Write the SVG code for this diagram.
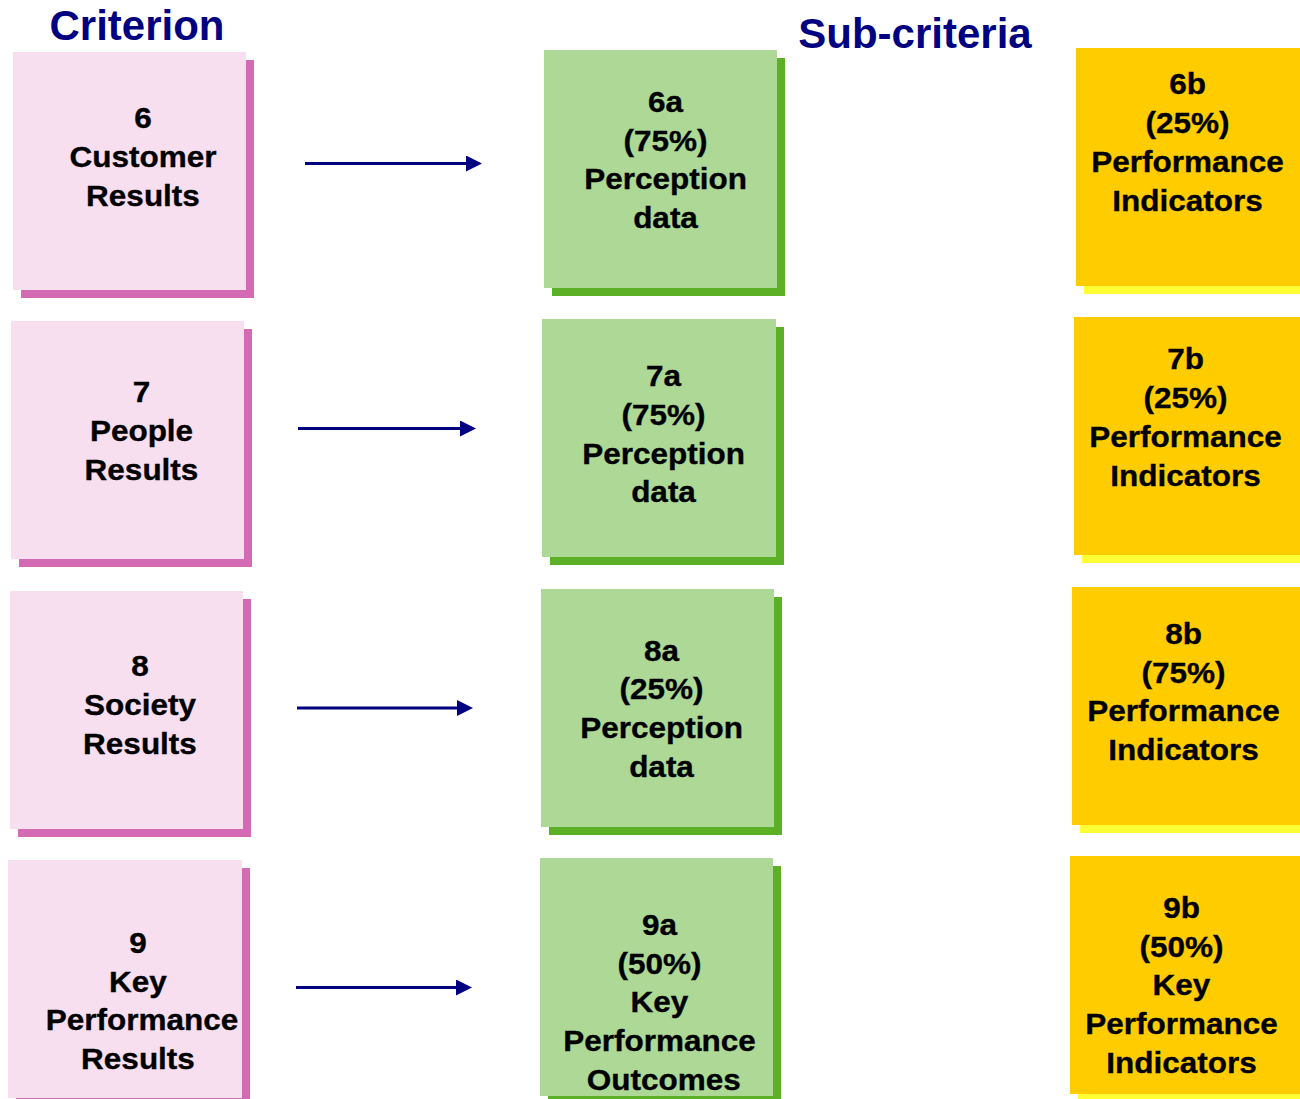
<svg xmlns="http://www.w3.org/2000/svg" width="1300" height="1099" viewBox="0 0 1300 1099">
<style>
.title{font-family:"Liberation Sans",Arial,sans-serif;font-weight:bold;font-size:42px;fill:#000080;text-anchor:middle}
.lbl{font-family:"Liberation Sans",Arial,sans-serif;font-weight:bold;font-size:30px;fill:#000;stroke:#000;stroke-width:0.35;text-anchor:middle}
.pk{fill:#F7DFF0}.pks{fill:#D46AB3}
.gr{fill:#ADD895}.grs{fill:#5BB026}
.yl{fill:#FFCC00}.yls{fill:#FFFF33}
.conn{stroke:#000080;stroke-width:3.2;fill:none}
</style>
<defs>
<marker id="ah" markerUnits="userSpaceOnUse" markerWidth="16" markerHeight="16" refX="0" refY="8" orient="auto" viewBox="0 0 16 16">
<path d="M0,0 L16,8 L0,16 z" fill="#000080"/>
</marker>
</defs>
<rect width="1300" height="1099" fill="#fff"/>
<text class="title" x="137" y="40">Criterion</text>
<text class="title" x="915" y="48">Sub-criteria</text>

<g id="c6">
<rect class="pks" x="21" y="60" width="233" height="238"/>
<rect class="pk" x="13" y="52" width="233" height="238"/>
<g transform="translate(143 0) scale(1.05 1)"><text class="lbl"><tspan x="0" y="128">6</tspan><tspan x="0" y="167">Customer</tspan><tspan x="0" y="206">Results</tspan></text></g>
</g>
<g id="c7">
<rect class="pks" x="19" y="329" width="233" height="238"/>
<rect class="pk" x="11" y="321" width="233" height="238"/>
<g transform="translate(141.5 0) scale(1.05 1)"><text class="lbl"><tspan x="0" y="402.5">7</tspan><tspan x="0" y="441.5">People</tspan><tspan x="0" y="480">Results</tspan></text></g>
</g>
<g id="c8">
<rect class="pks" x="18" y="599" width="233" height="238"/>
<rect class="pk" x="10" y="591" width="233" height="238"/>
<g transform="translate(140 0) scale(1.05 1)"><text class="lbl"><tspan x="0" y="676.5">8</tspan><tspan x="0" y="715.5">Society</tspan><tspan x="0" y="754.5">Results</tspan></text></g>
</g>
<g id="c9">
<rect class="pks" x="16" y="868" width="234" height="238"/>
<rect class="pk" x="8" y="860" width="234" height="238"/>
<g transform="translate(138 0) scale(1.05 1)"><text class="lbl"><tspan x="0" y="953">9</tspan><tspan x="0" y="992">Key</tspan><tspan x="3.8" y="1030.5">Performance</tspan><tspan x="0" y="1069">Results</tspan></text></g>
</g>

<g id="s6a">
<rect class="grs" x="552" y="58" width="233" height="238"/>
<rect class="gr" x="544" y="50" width="233" height="238"/>
<g transform="translate(665.5 0) scale(1.05 1)"><text class="lbl"><tspan x="0" y="112.5">6a</tspan><tspan x="0" y="151">(75%)</tspan><tspan x="0" y="189.5">Perception</tspan><tspan x="0" y="228">data</tspan></text></g>
</g>
<g id="s7a">
<rect class="grs" x="550" y="327" width="234" height="238"/>
<rect class="gr" x="542" y="319" width="234" height="238"/>
<g transform="translate(663.5 0) scale(1.05 1)"><text class="lbl"><tspan x="0" y="386.5">7a</tspan><tspan x="0" y="425">(75%)</tspan><tspan x="0" y="464">Perception</tspan><tspan x="0" y="502.5">data</tspan></text></g>
</g>
<g id="s8a">
<rect class="grs" x="549" y="597" width="233" height="238"/>
<rect class="gr" x="541" y="589" width="233" height="238"/>
<g transform="translate(661.5 0) scale(1.05 1)"><text class="lbl"><tspan x="0" y="661">8a</tspan><tspan x="0" y="699.5">(25%)</tspan><tspan x="0" y="738">Perception</tspan><tspan x="0" y="777">data</tspan></text></g>
</g>
<g id="s9a">
<rect class="grs" x="548" y="866" width="233" height="238"/>
<rect class="gr" x="540" y="858" width="233" height="238"/>
<g transform="translate(659.5 0) scale(1.05 1)"><text class="lbl"><tspan x="0" y="935">9a</tspan><tspan x="0" y="974">(50%)</tspan><tspan x="0" y="1012.5">Key</tspan><tspan x="0" y="1051">Performance</tspan><tspan x="4" y="1090">Outcomes</tspan></text></g>
</g>

<g id="s6b">
<rect class="yls" x="1084" y="56" width="233" height="238"/>
<rect class="yl" x="1076" y="48" width="233" height="238"/>
<g transform="translate(1187.5 0) scale(1.05 1)"><text class="lbl"><tspan x="0" y="94.5">6b</tspan><tspan x="0" y="133.5">(25%)</tspan><tspan x="0" y="172">Performance</tspan><tspan x="0" y="211">Indicators</tspan></text></g>
</g>
<g id="s7b">
<rect class="yls" x="1082" y="325" width="233" height="238"/>
<rect class="yl" x="1074" y="317" width="233" height="238"/>
<g transform="translate(1185.5 0) scale(1.05 1)"><text class="lbl"><tspan x="0" y="369.5">7b</tspan><tspan x="0" y="408">(25%)</tspan><tspan x="0" y="447">Performance</tspan><tspan x="0" y="486">Indicators</tspan></text></g>
</g>
<g id="s8b">
<rect class="yls" x="1080" y="595" width="233" height="238"/>
<rect class="yl" x="1072" y="587" width="233" height="238"/>
<g transform="translate(1183.5 0) scale(1.05 1)"><text class="lbl"><tspan x="0" y="644">8b</tspan><tspan x="0" y="683">(75%)</tspan><tspan x="0" y="721">Performance</tspan><tspan x="0" y="760">Indicators</tspan></text></g>
</g>
<g id="s9b">
<rect class="yls" x="1078" y="864" width="233" height="238"/>
<rect class="yl" x="1070" y="856" width="233" height="238"/>
<g transform="translate(1181.5 0) scale(1.05 1)"><text class="lbl"><tspan x="0" y="918">9b</tspan><tspan x="0" y="957">(50%)</tspan><tspan x="0" y="995.5">Key</tspan><tspan x="0" y="1034">Performance</tspan><tspan x="0" y="1073">Indicators</tspan></text></g>
</g>

<g id="connectors">
<line class="conn" x1="305" y1="163.5" x2="466" y2="163.5" marker-end="url(#ah)"/>
<line class="conn" x1="298" y1="428.5" x2="460" y2="428.5" marker-end="url(#ah)"/>
<line class="conn" x1="297" y1="708" x2="457" y2="708" marker-end="url(#ah)"/>
<line class="conn" x1="296" y1="987.5" x2="456" y2="987.5" marker-end="url(#ah)"/>
</g>
</svg>
